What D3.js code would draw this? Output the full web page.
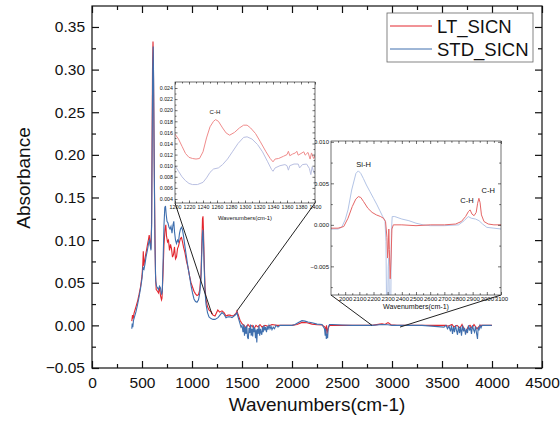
<!DOCTYPE html>
<html>
<head>
<meta charset="utf-8">
<script src="https://cdn.jsdelivr.net/npm/d3@7"></script>
<style>
  body { margin: 0; background: #fff; }
  svg text { font-family: "Liberation Sans", Arial, sans-serif; fill: #111; }
</style>
</head>
<body>
<div id="chart"></div>
<script>
// ---- data (wavenumber, absorbance) ----
const ltMain = [
  [398,0.005],[405,0.012],[412,0.008],[420,0.014],[430,0.018],[440,0.022],[455,0.028],[470,0.036],
  [485,0.045],[500,0.058],[508,0.072],[513,0.087],[518,0.070],[525,0.075],[535,0.082],[545,0.088],
  [555,0.095],[565,0.101],[572,0.106],[580,0.098],[588,0.090],[595,0.115],[600,0.20],[605,0.30],
  [610,0.333],[614,0.31],[620,0.22],[628,0.12],[635,0.06],[642,0.042],[655,0.040],[665,0.038],
  [675,0.045],[685,0.035],[695,0.030],[700,0.032],[710,0.060],[720,0.095],[730,0.112],[738,0.118],
  [745,0.105],[755,0.098],[765,0.100],[775,0.088],[785,0.095],[795,0.090],[805,0.080],[815,0.083],
  [825,0.092],[835,0.078],[845,0.080],[855,0.090],[865,0.093],[875,0.098],[885,0.102],[895,0.103],
  [905,0.098],[915,0.092],[930,0.085],[945,0.075],[960,0.068],[975,0.058],[990,0.050],[1005,0.045],
  [1020,0.040],[1035,0.037],[1050,0.035],[1065,0.036],[1078,0.042],[1090,0.060],[1098,0.095],
  [1105,0.125],[1110,0.128],[1115,0.110],[1122,0.075],[1130,0.045],[1140,0.030],[1155,0.022],
  [1170,0.018],[1190,0.016],[1210,0.012],[1230,0.011],[1258,0.018],[1277,0.0155],[1300,0.017],
  [1320,0.015],[1340,0.011],[1360,0.012],[1380,0.012],[1400,0.011],[1420,0.012],[1440,0.014],
  [1450,0.017],[1460,0.013],[1480,0.006],[1500,0.002],[1520,0.0],[1540,-0.003],[1560,0.001],
  [1580,-0.002],[1600,0.0],[1620,-0.004],[1640,0.0],[1660,-0.002],[1680,0.001],[1700,-0.002],
  [1730,0.0],[1760,-0.001],[1800,0.001],[1850,0.0],[1950,0.0],[2000,0.0],[2050,0.001],[2100,0.0035],
  [2150,0.003],[2200,0.0015],[2250,0.0008],[2300,0.0005],[2330,-0.002],[2340,-0.006],[2345,0.0],
  [2350,-0.010],[2360,-0.004],[2375,0.0],[2500,0.0],[2700,0.0],[2800,0.0],[2880,0.0015],[2900,0.0018],
  [2930,0.0010],[2960,0.0033],[2990,0.0008],[3050,0.0],[3300,0.0],[3540,0.0],[3560,-0.001],
  [3600,0.001],[3620,-0.002],[3650,0.0],[3680,-0.003],[3700,0.001],[3720,-0.004],[3740,-0.008],
  [3760,-0.002],[3780,0.0],[3800,-0.003],[3820,0.001],[3850,-0.004],[3880,0.0],[3920,0.0],[4000,0.0]
];
const stdMain = [
  [398,-0.004],[402,0.002],[408,-0.002],[415,0.006],[425,0.010],[440,0.016],[455,0.024],[470,0.033],
  [485,0.043],[500,0.055],[510,0.068],[520,0.066],[530,0.072],[540,0.080],[550,0.086],[560,0.092],
  [568,0.098],[575,0.100],[582,0.094],[590,0.088],[597,0.12],[602,0.22],[607,0.30],[612,0.327],
  [616,0.29],[622,0.19],[630,0.09],[637,0.052],[645,0.046],[655,0.044],[665,0.042],[675,0.046],
  [685,0.044],[695,0.036],[703,0.040],[712,0.080],[720,0.118],[728,0.138],[735,0.140],[742,0.130],
  [750,0.122],[760,0.120],[770,0.115],[780,0.113],[790,0.116],[800,0.108],[810,0.118],[818,0.122],
  [825,0.110],[835,0.100],[845,0.096],[855,0.100],[865,0.098],[875,0.108],[885,0.113],[895,0.115],
  [905,0.112],[915,0.105],[930,0.092],[945,0.080],[960,0.068],[975,0.058],[990,0.047],[1005,0.038],
  [1020,0.031],[1035,0.028],[1050,0.027],[1065,0.030],[1078,0.038],[1090,0.055],[1098,0.085],
  [1105,0.108],[1110,0.112],[1115,0.098],[1122,0.068],[1130,0.040],[1140,0.025],[1155,0.015],
  [1170,0.010],[1190,0.008],[1210,0.007],[1230,0.007],[1260,0.009],[1300,0.015],[1320,0.013],
  [1340,0.009],[1360,0.010],[1380,0.010],[1400,0.009],[1420,0.011],[1440,0.013],[1450,0.015],
  [1460,0.010],[1475,0.004],[1490,-0.002],[1500,0.0],[1510,-0.008],[1518,0.001],[1525,-0.012],
  [1532,-0.002],[1540,-0.010],[1548,0.0],[1555,-0.014],[1563,-0.016],[1570,-0.003],[1578,-0.009],
  [1585,0.001],[1592,-0.012],[1600,-0.004],[1607,-0.013],[1614,0.0],[1620,-0.008],[1628,-0.003],
  [1635,-0.015],[1642,-0.005],[1648,-0.020],[1655,-0.004],[1662,-0.010],[1670,0.0],[1677,-0.012],
  [1685,-0.004],[1692,-0.009],[1698,-0.011],[1705,-0.002],[1712,-0.008],[1720,0.0],[1728,-0.006],
  [1735,-0.002],[1745,-0.008],[1752,-0.001],[1760,-0.005],[1770,0.0],[1780,-0.004],[1790,-0.001],
  [1800,-0.005],[1812,-0.002],[1825,-0.004],[1840,0.0],[1860,-0.002],[1880,0.0],[2000,0.0],
  [2030,0.001],[2060,0.003],[2100,0.0055],[2130,0.005],[2160,0.004],[2200,0.003],[2250,0.0015],
  [2300,0.001],[2325,-0.004],[2332,-0.012],[2338,-0.004],[2343,-0.016],[2350,-0.010],[2356,-0.015],
  [2363,-0.002],[2375,0.001],[2400,0.001],[2500,0.0005],[2600,0.0],[2800,0.0],[2900,0.001],
  [2960,0.0008],[3000,0.0],[3300,0.0],[3520,-0.002],[3540,0.0],[3555,-0.004],[3570,-0.001],
  [3585,-0.007],[3595,0.0],[3605,-0.010],[3615,-0.002],[3625,-0.008],[3635,0.0],[3645,-0.006],
  [3655,-0.011],[3665,-0.001],[3675,-0.009],[3685,-0.002],[3695,-0.012],[3705,0.0],[3715,-0.007],
  [3725,-0.003],[3735,-0.011],[3745,-0.004],[3755,-0.009],[3765,0.0],[3775,-0.006],[3785,-0.002],
  [3795,-0.010],[3805,0.0],[3815,-0.005],[3825,-0.008],[3835,-0.001],[3845,-0.009],[3855,-0.016],
  [3862,-0.002],[3870,-0.006],[3880,0.0],[3890,-0.003],[3900,0.0],[3998,0.0]
];

// zoomed window 1200-1400 cm-1
const ltInset1 = [
  [1200,0.0157],[1205,0.0148],[1210,0.0135],[1215,0.0122],[1220,0.0115],[1225,0.0113],[1230,0.0112],
  [1235,0.0113],[1240,0.0125],[1245,0.0150],[1250,0.0170],[1255,0.0180],[1258,0.0183],[1262,0.0180],
  [1268,0.0168],[1273,0.0159],[1278,0.0155],[1285,0.0160],[1292,0.0168],[1298,0.0173],[1303,0.0173],
  [1308,0.0168],[1315,0.0158],[1322,0.0143],[1330,0.0125],[1336,0.0113],[1340,0.0107],[1343,0.0112],
  [1348,0.0113],[1355,0.0117],[1360,0.0120],[1362,0.0126],[1364,0.0118],[1368,0.0121],[1372,0.0123],
  [1374,0.0126],[1376,0.0119],[1380,0.0122],[1384,0.0125],[1386,0.0119],[1390,0.0124],[1393,0.0112],
  [1395,0.0123],[1398,0.0113],[1400,0.0118]
];
const stdInset1 = [
  [1200,0.0100],[1205,0.0090],[1210,0.0080],[1215,0.0073],[1220,0.0068],[1225,0.0066],[1232,0.0066],
  [1240,0.0070],[1245,0.0078],[1250,0.0088],[1255,0.0094],[1262,0.0096],[1268,0.0102],[1275,0.0112],
  [1282,0.0125],[1290,0.0140],[1298,0.0151],[1303,0.0152],[1310,0.0148],[1318,0.0138],[1325,0.0125],
  [1332,0.0108],[1338,0.0093],[1340,0.0090],[1343,0.0096],[1350,0.0100],[1357,0.0102],[1360,0.0100],
  [1362,0.0092],[1364,0.0100],[1370,0.0103],[1376,0.0103],[1378,0.0096],[1382,0.0102],[1388,0.0103],
  [1392,0.0095],[1394,0.0084],[1396,0.0098],[1398,0.0089],[1400,0.0085]
];

// zoomed window 1900-3100 cm-1
const ltInset2 = [
  [1900,-0.0004],[1950,-0.0004],[1990,-0.0002],[2020,0.0008],[2050,0.0022],[2075,0.0031],[2093,0.0034],
  [2110,0.0033],[2130,0.0028],[2160,0.0020],[2190,0.0015],[2220,0.0012],[2250,0.0010],[2270,0.0008],
  [2285,0.0004],[2295,-0.0015],[2300,-0.0040],[2304,-0.0030],[2308,-0.0005],[2312,-0.0030],
  [2318,-0.0065],[2324,-0.0040],[2330,-0.0005],[2340,0.0000],[2400,0.0000],[2500,-0.0001],[2600,0.0000],
  [2700,0.0000],[2780,0.0001],[2820,0.0004],[2850,0.0010],[2870,0.0016],[2882,0.0018],[2895,0.0013],
  [2910,0.0011],[2925,0.0015],[2935,0.0026],[2944,0.0032],[2952,0.0027],[2962,0.0012],[2980,0.0004],
  [3010,0.0001],[3050,0.0000],[3100,0.0000]
];
const stdInset2 = [
  [1900,-0.0005],[1950,-0.0005],[1975,-0.0003],[2000,0.0006],[2020,0.0018],[2046,0.0042],[2076,0.0062],
  [2093,0.0065],[2110,0.0062],[2128,0.0056],[2150,0.0048],[2175,0.0040],[2200,0.0032],[2222,0.0025],
  [2245,0.0017],[2265,0.0010],[2281,0.0005],[2288,-0.0020],[2292,-0.0095],[2300,-0.0095],[2304,-0.0050],
  [2308,-0.0040],[2312,-0.0095],[2322,-0.0095],[2326,-0.0010],[2332,0.0010],[2350,0.0010],[2400,0.0007],
  [2450,0.0005],[2500,0.0002],[2550,0.0000],[2600,-0.0001],[2700,-0.0001],[2800,0.0000],[2840,0.0005],
  [2869,0.0010],[2890,0.0008],[2920,0.0007],[2945,0.0005],[2970,0.0001],[3000,-0.0003],[3050,-0.0004],
  [3100,-0.0005]
];

const xTicks = d3.range(0, 4501, 500);
const yTicks = [-0.05, 0, 0.05, 0.10, 0.15, 0.20, 0.25, 0.30, 0.35];
const seriesNames = ['LT_SICN', 'STD_SICN'];

const W = 560, H = 423;
const red = '#e3262e', blue = '#3f6fae';

const svg = d3.select('#chart').append('svg')
  .attr('width', W)
  .attr('height', H);

// draws a boxed frame with inward ticks on all four sides
function drawFrame(g, xs, ys, o) {
  const [x0, x1] = xs.range();
  const [y0, y1] = ys.range(); // y0 bottom, y1 top
  const none = () => '';

  const axes = [
    { ax: d3.axisBottom(xs), pos: `translate(0,${y0})`, t: o.xTicks, m: o.xMinor, fmt: o.xFmt, pad: o.xPad },
    { ax: d3.axisTop(xs), pos: `translate(0,${y1})`, t: o.xTicks, m: o.xMinor, fmt: none },
    { ax: d3.axisLeft(ys), pos: `translate(${x0},0)`, t: o.yTicks, m: o.yMinor, fmt: o.yFmt, pad: o.yPad },
    { ax: d3.axisRight(ys), pos: `translate(${x1},0)`, t: o.yTicks, m: o.yMinor, fmt: none }
  ];

  axes.forEach(a => {
    const major = g.append('g')
      .attr('transform', a.pos)
      .call(a.ax.tickValues(a.t).tickSize(-o.major).tickPadding(a.pad || 0).tickFormat(a.fmt));
    major.select('.domain').remove();
    major.selectAll('line').attr('stroke', '#111').attr('stroke-width', o.sw);
    major.selectAll('text').attr('font-size', o.fs).attr('fill', '#111');

    const minor = g.append('g')
      .attr('transform', a.pos)
      .call(a.ax.tickValues(a.m).tickSize(-o.minor).tickFormat(none));
    minor.select('.domain').remove();
    minor.selectAll('line').attr('stroke', '#111').attr('stroke-width', o.sw);
  });

  g.append('rect')
    .attr('x', x0)
    .attr('y', y1)
    .attr('width', x1 - x0)
    .attr('height', y0 - y1)
    .attr('fill', 'none')
    .attr('stroke', '#111')
    .attr('stroke-width', o.sw);
}

// ---- main chart ----
const x = d3.scaleLinear().domain([0, 4500]).range([92, 542]);
const y = d3.scaleLinear().domain([-0.05, 0.3746]).range([368, 6]);

const line = d3.line().x(d => x(d[0])).y(d => y(d[1]));

const main = svg.append('g');
main.append('path').datum(ltMain)
  .attr('d', line).attr('fill', 'none').attr('stroke', red).attr('stroke-width', 1.1);
main.append('path').datum(stdMain)
  .attr('d', line).attr('fill', 'none').attr('stroke', blue).attr('stroke-width', 1.1);

drawFrame(main, x, y, {
  xTicks: xTicks, xMinor: d3.range(250, 4500, 500),
  yTicks: yTicks, yMinor: d3.range(-0.025, 0.37, 0.05),
  major: 7, minor: 4, sw: 1.2, fs: '15.5px', xPad: 9, yPad: 7,
  xFmt: d => d,
  yFmt: d => d3.format('.2f')(Math.abs(d) < 1e-9 ? 0 : d)
});

svg.append('text')
  .attr('x', 317).attr('y', 411)
  .attr('text-anchor', 'middle')
  .attr('font-size', '19px')
  .text('Wavenumbers(cm-1)');

svg.append('text')
  .attr('transform', 'translate(30,178) rotate(-90)')
  .attr('text-anchor', 'middle')
  .attr('font-size', '19px')
  .text('Absorbance');

// legend
const legend = svg.append('g');
legend.append('rect')
  .attr('x', 387).attr('y', 13).attr('width', 146).attr('height', 49)
  .attr('fill', '#fff').attr('stroke', '#666').attr('stroke-width', 0.8);
seriesNames.forEach((name, i) => {
  const ly = 26 + i * 23;
  legend.append('line')
    .attr('x1', 390).attr('x2', 432).attr('y1', ly).attr('y2', ly)
    .attr('stroke', i === 0 ? red : blue).attr('stroke-width', 1);
  legend.append('text')
    .attr('x', 437).attr('y', ly + 6.5)
    .attr('font-size', '18.5px')
    .text(name);
});

// connector lines from zoom windows to the spectrum
const connectors = [
  [[175, 203], [1200, 0.013]],
  [[315, 203], [1450, 0.017]],
  [[331, 295], [2800, 0.0]],
  [[501, 295], [3080, -0.002]]
];
connectors.forEach(c => {
  svg.append('line')
    .attr('x1', c[0][0]).attr('y1', c[0][1])
    .attr('x2', x(c[1][0])).attr('y2', y(c[1][1]))
    .attr('stroke', '#222').attr('stroke-width', 1);
});

// ---- inset drawing ----
function drawInset(cfg) {
  const g = svg.append('g');
  const xs = d3.scaleLinear().domain(cfg.xDomain).range(cfg.xRange);
  const ys = d3.scaleLinear().domain(cfg.yDomain).range(cfg.yRange);

  g.append('rect')
    .attr('x', cfg.xRange[0]).attr('y', cfg.yRange[1])
    .attr('width', cfg.xRange[1] - cfg.xRange[0])
    .attr('height', cfg.yRange[0] - cfg.yRange[1])
    .attr('fill', '#fff');

  const clipId = cfg.id + '-clip';
  g.append('clipPath').attr('id', clipId).append('rect')
    .attr('x', cfg.xRange[0]).attr('y', cfg.yRange[1])
    .attr('width', cfg.xRange[1] - cfg.xRange[0])
    .attr('height', cfg.yRange[0] - cfg.yRange[1]);

  const ln = d3.line().x(d => xs(d[0])).y(d => ys(d[1]));
  cfg.series.forEach(s => {
    g.append('path').datum(s.data)
      .attr('clip-path', `url(#${clipId})`)
      .attr('d', ln).attr('fill', 'none')
      .attr('stroke', s.color).attr('stroke-width', 1);
  });

  drawFrame(g, xs, ys, {
    xTicks: cfg.xTicks, xMinor: cfg.xMinor, yTicks: cfg.yTicks, yMinor: cfg.yMinor,
    major: cfg.major, minor: cfg.minor, sw: 0.6, fs: cfg.fs, xPad: 2, yPad: 2,
    xFmt: d => d, yFmt: d => d3.format('.3f')(Math.abs(d) < 1e-9 ? 0 : d)
  });

  g.append('text')
    .attr('x', (cfg.xRange[0] + cfg.xRange[1]) / 2).attr('y', cfg.titleY)
    .attr('text-anchor', 'middle')
    .attr('font-size', cfg.titleFs)
    .text('Wavenumbers(cm-1)');

  cfg.notes.forEach(n => {
    g.append('text')
      .attr('x', xs(n.x)).attr('y', ys(n.y))
      .attr('text-anchor', 'middle')
      .attr('font-size', cfg.noteFs)
      .text(n.text);
  });
}

drawInset({
  id: 'inset2',
  xDomain: [1900, 3100], xRange: [331, 501],
  yDomain: [-0.00845, 0.0101], yRange: [295, 141],
  xTicks: d3.range(2000, 3101, 100), xMinor: d3.range(1950, 3100, 100),
  yTicks: [-0.005, 0, 0.005, 0.010], yMinor: [-0.0075, -0.0025, 0.0025, 0.0075],
  major: 3, minor: 1.8, fs: '6px',
  titleY: 309, titleFs: '7.1px', noteFs: '7.5px',
  series: [
    { data: stdInset2, color: '#b3c4e6' },
    { data: ltInset2, color: '#e56666' }
  ],
  notes: [
    { x: 2130, y: 0.0070, text: 'Si-H' },
    { x: 2860, y: 0.0026, text: 'C-H' },
    { x: 3010, y: 0.0038, text: 'C-H' }
  ]
});

drawInset({
  id: 'inset1',
  xDomain: [1200, 1400], xRange: [175, 315],
  yDomain: [0.00328, 0.02508], yRange: [203, 82],
  xTicks: d3.range(1200, 1401, 20), xMinor: d3.range(1210, 1400, 20),
  yTicks: d3.range(0.004, 0.0241, 0.002), yMinor: d3.range(0.005, 0.0245, 0.002),
  major: 2.5, minor: 1.5, fs: '5.3px',
  titleY: 220, titleFs: '5.8px', noteFs: '6px',
  series: [
    { data: stdInset1, color: '#b9bfe2' },
    { data: ltInset1, color: '#f08c8c' }
  ],
  notes: [
    { x: 1257, y: 0.0194, text: 'C-H' }
  ]
});
</script>
</body>
</html>
